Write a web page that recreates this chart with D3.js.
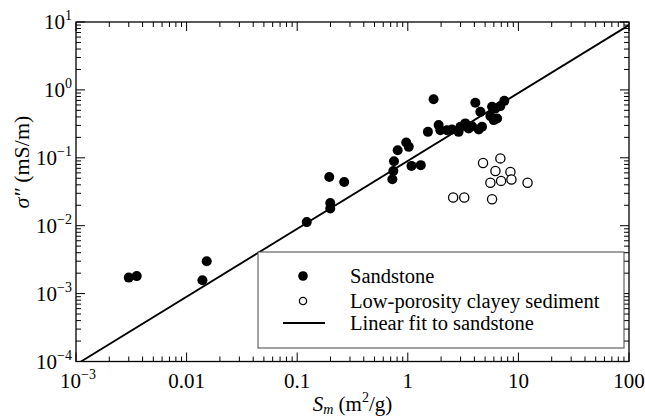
<!DOCTYPE html>
<html>
<head>
<meta charset="utf-8">
<script src="https://cdn.jsdelivr.net/npm/d3@7"></script>
<style>
  body { margin: 0; background: #fff; }
</style>
</head>
<body>
<div id="chart"></div>
<script>
// sandstone (filled circles)
var sandX = [0.0030, 0.00354, 0.0139, 0.0152, 0.122, 0.195, 0.199, 0.199, 0.266,
             0.725, 0.74, 0.75, 0.81, 0.968, 1.02, 1.08, 1.31, 1.52, 1.71, 1.90,
             1.97, 2.26, 2.51, 2.88, 2.99, 3.31, 3.55, 3.81, 4.08, 4.38, 4.69, 4.53,
             5.58, 5.78, 6.2, 6.42, 5.98, 7.46, 6.87];
var sandY = [0.00172, 0.00181, 0.00157, 0.00299, 0.0113, 0.0523, 0.0216, 0.0179, 0.0441,
             0.0483, 0.064, 0.089, 0.129, 0.168, 0.145, 0.076, 0.078, 0.241, 0.73, 0.303,
             0.255, 0.255, 0.261, 0.241, 0.286, 0.321, 0.27, 0.292, 0.645, 0.261, 0.286, 0.475,
             0.411, 0.564, 0.533, 0.38, 0.359, 0.69, 0.577];

// low-porosity clayey sediment (open circles)
var clayX = [4.79, 6.87, 6.2, 8.47, 5.58, 6.97, 8.65, 12.1, 2.57, 3.24, 5.78];
var clayY = [0.084, 0.098, 0.064, 0.062, 0.043, 0.0457, 0.0479, 0.043, 0.026, 0.026, 0.0245];

// linear fit to sandstone, end points
var fitX = [0.001, 100];
var fitY = [9.0e-5, 9.0];

var xTickVals = [0.001, 0.01, 0.1, 1, 10, 100];
var xTickLabels = [["10", "\u22123"], ["0.01"], ["0.1"], ["1"], ["10"], ["100"]];
var yTickVals = [1e-4, 1e-3, 1e-2, 1e-1, 1, 10];
var yTickLabels = [["10", "\u22124"], ["10", "\u22123"], ["10", "\u22122"], ["10", "\u22121"], ["10", "0"], ["10", "1"]];

var legendLabels = ["Sandstone", "Low-porosity clayey sediment", "Linear fit to sandstone"];

var width = 645, height = 418;
var margin = {top: 22, right: 16, bottom: 56.5, left: 76};
var w = width - margin.left - margin.right,
    h = height - margin.top - margin.bottom;

var svg = d3.select("#chart").append("svg")
    .attr("width", width)
    .attr("height", height)
    .style("display", "block")
    .attr("font-family", "'Liberation Serif', 'Times New Roman', Times, 'DejaVu Serif', serif");

var g = svg.append("g").attr("transform", "translate(" + margin.left + "," + margin.top + ")");

var x = d3.scaleLog().domain([0.001, 100]).range([0, w]);
var y = d3.scaleLog().domain([1e-4, 10]).range([h, 0]);

// minor + major tick values
function logTicks(lo, hi) {
  var out = [];
  for (var e = lo; e < hi; e++) {
    for (var m = 1; m < 10; m++) out.push({v: m * Math.pow(10, e), major: m === 1});
  }
  out.push({v: Math.pow(10, hi), major: true});
  return out;
}
var xt = logTicks(-3, 2), yt = logTicks(-4, 1);

var tickG = g.append("g").attr("stroke", "#000").attr("stroke-width", 1);
xt.forEach(function(t) {
  var len = t.major ? 9 : 5;
  tickG.append("line").attr("x1", x(t.v)).attr("x2", x(t.v)).attr("y1", h).attr("y2", h - len);
  tickG.append("line").attr("x1", x(t.v)).attr("x2", x(t.v)).attr("y1", 0).attr("y2", len);
});
yt.forEach(function(t) {
  var len = t.major ? 9 : 5;
  tickG.append("line").attr("y1", y(t.v)).attr("y2", y(t.v)).attr("x1", 0).attr("x2", len);
  tickG.append("line").attr("y1", y(t.v)).attr("y2", y(t.v)).attr("x1", w).attr("x2", w - len);
});

// frame
g.append("rect")
    .attr("width", w).attr("height", h)
    .attr("fill", "none").attr("stroke", "#000").attr("stroke-width", 1.3);

// tick labels
function addLabel(sel, parts) {
  sel.append("tspan").text(parts[0]);
  if (parts.length > 1) {
    sel.append("tspan").attr("dy", -9).attr("font-size", 14).text(parts[1]);
  }
}
xTickVals.forEach(function(v, i) {
  var t = g.append("text")
      .attr("x", x(v) + (i === 0 ? 2 : 0)).attr("y", h + 26)
      .attr("text-anchor", "middle")
      .attr("font-size", 21);
  addLabel(t, xTickLabels[i]);
});
yTickVals.forEach(function(v, i) {
  var t = g.append("text")
      .attr("x", -4).attr("y", y(v) + 7)
      .attr("text-anchor", "end")
      .attr("font-size", 21);
  addLabel(t, yTickLabels[i]);
});

// axis titles
var xl = svg.append("text")
    .attr("x", margin.left + w / 2).attr("y", 411)
    .attr("text-anchor", "middle").attr("font-size", 21);
xl.append("tspan").attr("font-style", "italic").text("S");
xl.append("tspan").attr("font-style", "italic").attr("font-size", 14).attr("dy", 3).text("m");
xl.append("tspan").attr("dy", -3).text(" (m");
xl.append("tspan").attr("font-size", 14).attr("dy", -9).text("2");
xl.append("tspan").attr("dy", 9).text("/g)");

var yl = svg.append("text")
    .attr("transform", "translate(29,162) rotate(-90)")
    .attr("text-anchor", "middle").attr("font-size", 22);
yl.append("tspan").attr("font-style", "italic").text("\u03c3\u2033");
yl.append("tspan").text(" (mS/m)");

// fit line
svg.append("clipPath").attr("id", "clip")
  .append("rect").attr("width", w).attr("height", h);

var line = d3.line()
    .x(function(d) { return x(d[0]); })
    .y(function(d) { return y(d[1]); });

g.append("path")
    .datum(d3.zip(fitX, fitY))
    .attr("clip-path", "url(#clip)")
    .attr("d", line)
    .attr("fill", "none")
    .attr("stroke", "#000")
    .attr("stroke-width", 1.8);

// points
g.selectAll(".sand")
    .data(d3.zip(sandX, sandY))
    .enter().append("circle")
    .attr("class", "sand")
    .attr("cx", function(d) { return x(d[0]); })
    .attr("cy", function(d) { return y(d[1]); })
    .attr("r", 5)
    .attr("fill", "#000");

g.selectAll(".clay")
    .data(d3.zip(clayX, clayY))
    .enter().append("circle")
    .attr("class", "clay")
    .attr("cx", function(d) { return x(d[0]); })
    .attr("cy", function(d) { return y(d[1]); })
    .attr("r", 4.6)
    .attr("fill", "#fff")
    .attr("stroke", "#000")
    .attr("stroke-width", 1.3);

// legend
var leg = svg.append("g").attr("transform", "translate(258,252)");
leg.append("rect")
    .attr("width", 366).attr("height", 96)
    .attr("fill", "#fff").attr("stroke", "#444").attr("stroke-width", 1);

var rowY = [24, 49, 71];
leg.append("circle").attr("cx", 45).attr("cy", rowY[0]).attr("r", 4.8).attr("fill", "#000");
leg.append("circle").attr("cx", 45).attr("cy", rowY[1]).attr("r", 3.6)
    .attr("fill", "#fff").attr("stroke", "#000").attr("stroke-width", 1.3);
leg.append("line").attr("x1", 25).attr("x2", 67).attr("y1", rowY[2]).attr("y2", rowY[2])
    .attr("stroke", "#000").attr("stroke-width", 1.8);

leg.selectAll(".lt")
    .data(legendLabels)
    .enter().append("text")
    .attr("class", "lt")
    .attr("x", 92)
    .attr("y", function(d, i) { return rowY[i] + 7; })
    .attr("font-size", 20.5)
    .text(function(d) { return d; });
</script>
</body>
</html>
